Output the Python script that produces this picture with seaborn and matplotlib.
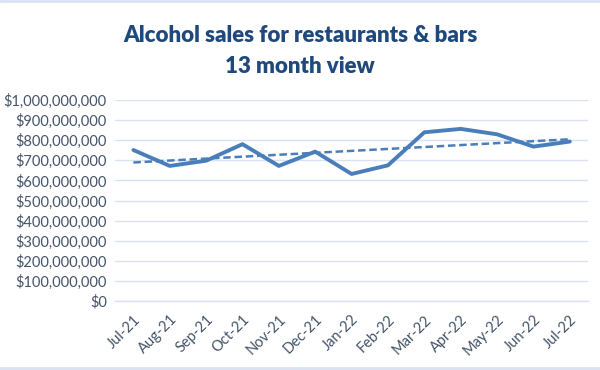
import numpy as np
import pandas as pd
import matplotlib
matplotlib.use("Agg")
import matplotlib.pyplot as plt
import matplotlib.ticker as mticker
import seaborn as sns

months = ["Jul-21", "Aug-21", "Sep-21", "Oct-21", "Nov-21", "Dec-21", "Jan-22",
          "Feb-22", "Mar-22", "Apr-22", "May-22", "Jun-22", "Jul-22"]
sales = [751e6, 672e6, 698e6, 780e6, 672e6, 743e6, 632e6,
         675e6, 839e6, 856e6, 829e6, 768e6, 793e6]

LINE = "#4A7EBB"
TEXT = "#44546A"
TITLE = "#1F497D"
GRID = "#D9E2F3"

df = pd.DataFrame({"month": months, "sales": sales})
df["idx"] = np.arange(len(df))

sns.set_style("white")
plt.rcParams["font.family"] = ["Lato", "DejaVu Sans"]

fig = plt.figure(figsize=(6, 3.7), dpi=100)
ax = fig.add_axes([0.192, 0.186, 0.788, 0.544])

sns.lineplot(data=df, x="idx", y="sales", color=LINE, linewidth=2.8, ax=ax)
sns.regplot(data=df, x="idx", y="sales", scatter=False, ci=None, ax=ax,
            line_kws={"color": LINE, "linewidth": 1.8, "linestyle": (0, (3, 1.5))})

ax.set_xlim(-0.5, len(months) - 0.5)
ax.set_ylim(0, 1e9)
ax.yaxis.set_major_locator(mticker.MultipleLocator(1e8))
ax.yaxis.set_major_formatter(mticker.FuncFormatter(lambda v, p: f"${v:,.0f}"))
ax.grid(axis="y", color=GRID, linewidth=1)
ax.set_axisbelow(True)

ax.set_xticks(df["idx"])
ax.set_xticklabels(months, rotation=45, ha="right", rotation_mode="anchor")
ax.set_xticks(np.arange(-0.5, len(months)), minor=True)
ax.tick_params(axis="x", which="major", length=0, pad=8, labelsize=10.5, labelcolor=TEXT)
ax.tick_params(axis="x", which="minor", length=4, color=GRID, width=1)
ax.tick_params(axis="y", length=0, labelsize=10.5, labelcolor=TEXT, pad=6)
ax.set_xlabel("")
ax.set_ylabel("")

for side in ["top", "right", "left"]:
    ax.spines[side].set_visible(False)
ax.spines["bottom"].set_color(GRID)
ax.spines["bottom"].set_linewidth(1)

fig.text(0.5, 0.862, "Alcohol sales for restaurants & bars\n13 month view",
         ha="center", va="center", fontsize=16, fontweight="heavy",
         color=TITLE, linespacing=1.55)

# light rules at the top and bottom edge of the chart
for y in (0.997, 0.005):
    fig.add_artist(plt.Line2D([0, 1], [y, y], transform=fig.transFigure,
                              color=GRID, linewidth=2))

fig.savefig("out.png", dpi=100)
